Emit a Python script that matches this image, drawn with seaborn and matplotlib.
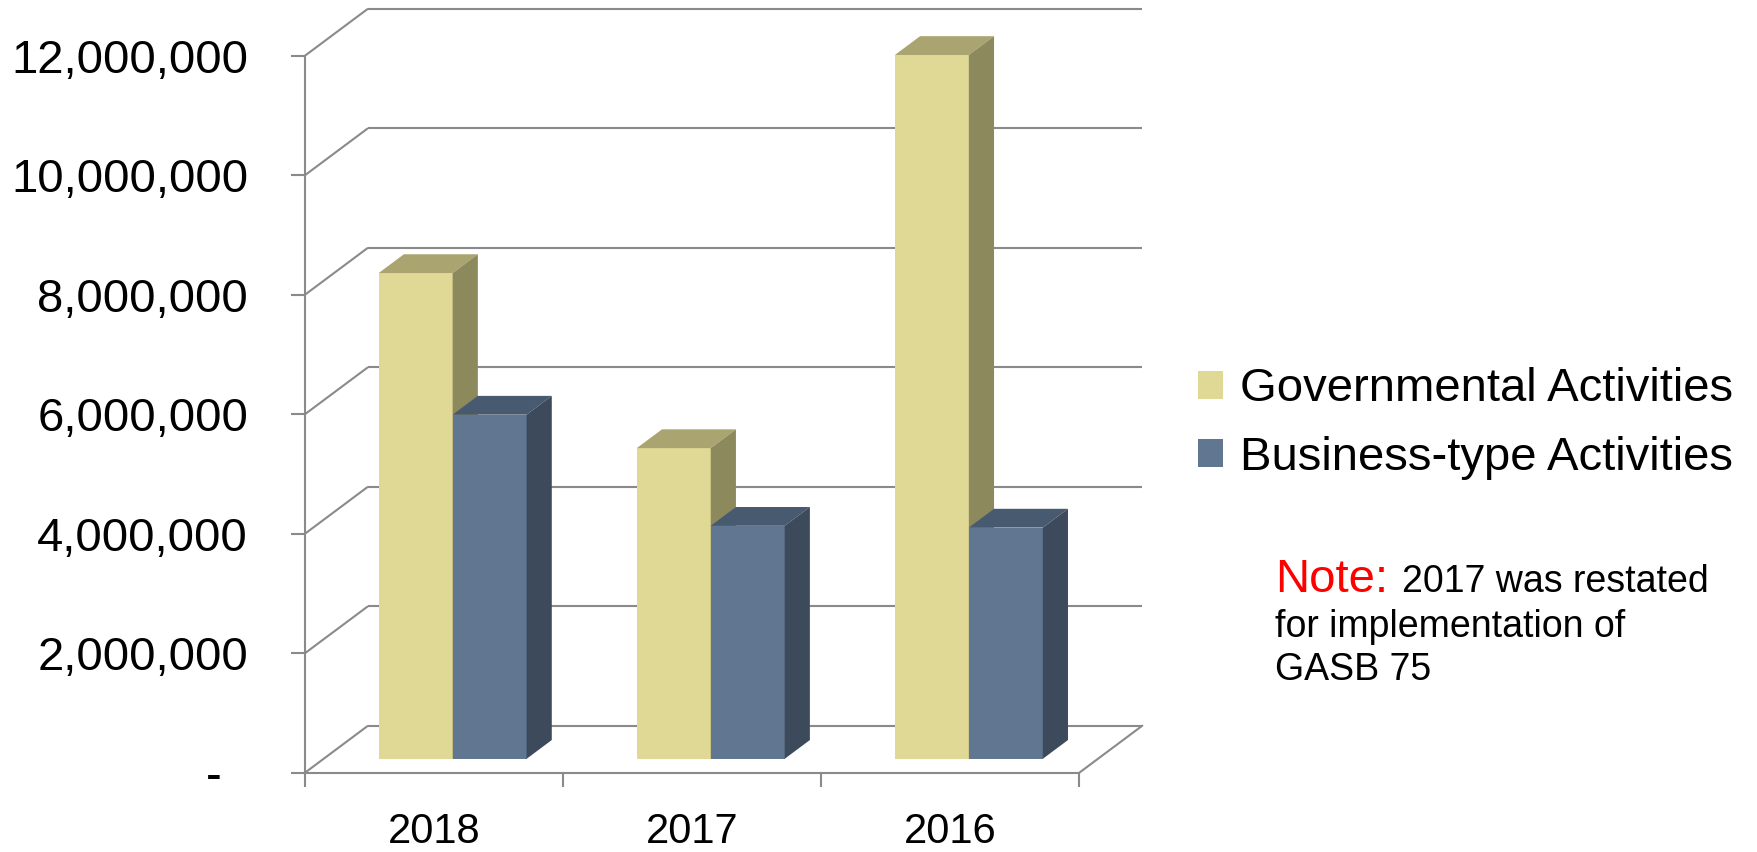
import matplotlib
matplotlib.use("Agg")
import matplotlib.pyplot as plt
import numpy as np
import pandas as pd
import seaborn as sns
from matplotlib.patches import Polygon, Patch

# ---------------- data ----------------
years = ["2018", "2017", "2016"]
series = ["Governmental Activities", "Business-type Activities"]
governmental = [8_130_000, 5_200_000, 11_780_000]
business = [5_760_000, 3_900_000, 3_870_000]
y_ticks = [0, 2_000_000, 4_000_000, 6_000_000, 8_000_000, 10_000_000, 12_000_000]
note_head = "Note:"
note_lines = ["2017 was restated", "for implementation of", "GASB 75"]

# ---------------- styles ----------------
front_colors = {series[0]: "#E0D996", series[1]: "#607691"}
top_colors = {series[0]: "#A9A470", series[1]: "#485A70"}
side_colors = {series[0]: "#8C895D", series[1]: "#3D4A5B"}
GRID = "#8A8A8A"
LW = 1.5

W, H = 1758, 852
# plot-frame geometry (pixels)
AX_L, AX_R, AX_T, AX_B = 305, 1079.3, 55.7, 772.7
PX_PER_CAT = (AX_R - AX_L) / 3.0
PX_PER_UNIT = (AX_B - AX_T) / 12_000_000
DEPTH_X = 63 / PX_PER_CAT           # full depth offset in category units
DEPTH_Y = 47 / PX_PER_UNIT          # full depth offset in value units
BAR_FRONT = 0.295                   # depth fraction of bar front face
BAR_DEPTH = 0.40                    # depth fraction of bar thickness

df = pd.DataFrame({
    "Year": years * 2,
    "Series": [series[0]] * len(years) + [series[1]] * len(years),
    "Value": governmental + business,
})

sns.set_style("white")
plt.rcParams["font.family"] = ["Liberation Sans", "DejaVu Sans"]
plt.rcParams["text.color"] = "black"
plt.rcParams["xtick.color"] = "black"
plt.rcParams["ytick.color"] = "black"

fig = plt.figure(figsize=(W / 100, H / 100), dpi=100)
ax = fig.add_axes([AX_L / W, (H - AX_B) / H, (AX_R - AX_L) / W, (AX_B - AX_T) / H])
ax.set_facecolor("none")

sns.barplot(data=df, x="Year", y="Value", hue="Series", order=years,
            hue_order=series, palette=front_colors, width=0.573, gap=0,
            saturation=1, errorbar=None, legend=False, linewidth=0, ax=ax)

ax.set_xlim(-0.5, 2.5)
ax.set_ylim(0, 12_000_000)

# ---- 3-D walls: side-wall diagonals and back-wall gridlines ----
for v in y_ticks:
    ax.plot([-0.5, -0.5 + DEPTH_X], [v, v + DEPTH_Y], color=GRID, lw=LW,
            clip_on=False, zorder=1, solid_capstyle="butt")
    ax.plot([-0.5 + DEPTH_X, 2.5 + DEPTH_X], [v + DEPTH_Y, v + DEPTH_Y],
            color=GRID, lw=LW, clip_on=False, zorder=1, solid_capstyle="butt")
ax.plot([2.5, 2.5 + DEPTH_X], [0, DEPTH_Y], color=GRID, lw=LW,
        clip_on=False, zorder=1)

# ---- 3-D bars ----
fx, fy = BAR_FRONT * DEPTH_X, BAR_FRONT * DEPTH_Y
dx, dy = BAR_DEPTH * DEPTH_X, BAR_DEPTH * DEPTH_Y
for h, (name, cont) in enumerate(zip(series, ax.containers)):
    for p in cont.patches:
        x0 = p.get_x() + fx
        base = fy
        p.set_x(x0)
        p.set_y(base)
        p.set_zorder(3 + h)
        p.set_clip_on(False)
        x1 = x0 + p.get_width()
        top = base + p.get_height()
        ax.add_patch(Polygon([(x0, top), (x0 + dx, top + dy), (x1 + dx, top + dy), (x1, top)],
                             closed=True, facecolor=top_colors[name], edgecolor="none",
                             zorder=3 + h, clip_on=False))
        ax.add_patch(Polygon([(x1, base), (x1 + dx, base + dy), (x1 + dx, top + dy), (x1, top)],
                             closed=True, facecolor=side_colors[name], edgecolor="none",
                             zorder=3 + h, clip_on=False))

# ---- axes / ticks ----
for s in ["top", "right"]:
    ax.spines[s].set_visible(False)
for s in ["left", "bottom"]:
    ax.spines[s].set_color(GRID)
    ax.spines[s].set_linewidth(LW)
    ax.spines[s].set_zorder(2)

ax.set_xlabel("")
ax.set_ylabel("")
ax.set_yticks(y_ticks)
ax.set_yticklabels([("-  " if v == 0 else f"{v:,.0f}") for v in y_ticks], fontsize=34)
ax.tick_params(axis="y", which="major", left=True, length=10, width=LW, color=GRID,
               pad=31, direction="out", labelcolor="black")
ax.set_xticks(range(len(years)))
ax.set_xticklabels(years, fontsize=30)
ax.set_xticks([-0.5, 0.5, 1.5, 2.5], minor=True)
ax.tick_params(axis="x", which="major", bottom=True, length=0, pad=28, labelcolor="black")
ax.tick_params(axis="x", which="minor", bottom=True, length=10, width=LW, color=GRID,
               direction="out")

# ---- legend ----
handles = [Patch(facecolor=front_colors[s], edgecolor="none") for s in series]
leg = fig.legend(handles, series, loc="center left",
                 bbox_to_anchor=(1198 / W, (H - 423.5) / H), frameon=False, fontsize=34,
                 handlelength=0.53, handleheight=0.53, handletextpad=0.36,
                 labelspacing=0.51, borderpad=0, borderaxespad=0)
for t in leg.get_texts():
    t.set_color("black")

# ---- note ----
fig.text(1275 / W, (H - 591.7) / H, note_head, color="red", fontsize=34, va="baseline")
fig.text(1401.7 / W, (H - 591.7) / H, note_lines[0], color="black", fontsize=27, va="baseline")
fig.text(1275 / W, (H - 636.7) / H, note_lines[1], color="black", fontsize=27, va="baseline")
fig.text(1275 / W, (H - 680.0) / H, note_lines[2], color="black", fontsize=27, va="baseline")

fig.savefig("out.png", dpi=100, facecolor="white")
